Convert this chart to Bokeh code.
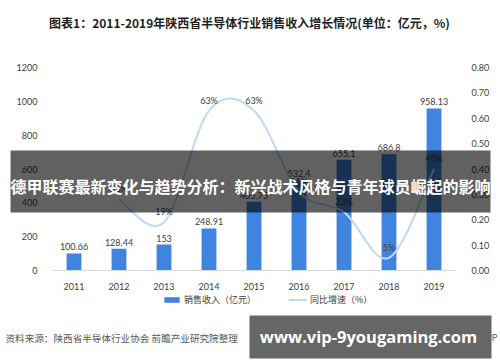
from bokeh.plotting import figure
from bokeh.models import (Range1d, LinearAxis, FixedTicker, PrintfTickFormatter, Label,
                          BoxAnnotation, Legend, LegendItem)
from bokeh.core.properties import value
from bokeh.embed import file_html
from bokeh.resources import INLINE

years = ["2011", "2012", "2013", "2014", "2015", "2016", "2017", "2018", "2019"]
sales = [100.66, 128.44, 153, 248.91, 405.75, 532.4, 655.1, 686.8, 958.13]
growth_years = ["2012", "2013", "2014", "2015", "2016", "2017", "2018", "2019"]
growth = [0.28, 0.19, 0.63, 0.63, 0.31, 0.23, 0.05, 0.40]
left_ticks = [0, 200, 400, 600, 800, 1000, 1200]
right_ticks = [0.0, 0.1, 0.2, 0.3, 0.4, 0.5, 0.6, 0.7, 0.8]

title_text = "图表1：2011-2019年陕西省半导体行业销售收入增长情况(单位：亿元，%)"
banner_text = "德甲联赛最新变化与趋势分析：新兴战术风格与青年球员崛起的影响"
source_text = "资料来源：陕西省半导体行业协会 前瞻产业研究院整理"
app_text = "前瞻经济学人APP"
wm_text = "www.vip-9yougaming.com"

CJK = "Noto Sans CJK SC"
NUM = "Lato"
BAR = "#3F84DF"
LINE = "#BFD8F6"
TXT = "#404040"

W, H = 500, 362
# plot area inside the canvas (pixels): left, right, top, bottom
PL, PR, PT, PB = 51, 456, 67, 270
ncat = len(years)
ux = ncat / (PR - PL)          # x data units per pixel
uy = 1200 / (PB - PT)          # left-axis units per pixel
up = 0.8 / (PB - PT)           # right-axis units per pixel

p = figure(width=W, height=H, output_backend="svg", toolbar_location=None,
           x_range=Range1d(-PL * ux, ncat + (W - PR) * ux),
           y_range=Range1d(-(H - PB) * uy, 1200 + PT * uy),
           min_border=0)
p.outline_line_color = None
p.grid.visible = False
p.background_fill_color = "white"
p.border_fill_color = "white"
p.extra_y_ranges = {"pct": Range1d(-(H - PB) * up, 0.8 + PT * up)}

xpos = [i + 0.5 for i in range(ncat)]
xmap = {y: i + 0.5 for i, y in enumerate(years)}

# axes (fixed inside the full-canvas frame)
xa = p.xaxis[0]
xa.fixed_location = 0
xa.bounds = (0, ncat)
xa.ticker = FixedTicker(ticks=xpos)
xa.major_label_overrides = {x: y for x, y in zip(xpos, years)}
xa.axis_line_color = "#D9D9D9"
xa.major_tick_line_color = None
xa.minor_tick_line_color = None
xa.major_label_standoff = 6
xa.major_label_text_font = NUM
xa.major_label_text_font_size = "9px"
xa.major_label_text_color = TXT

ya = p.yaxis[0]
ya.fixed_location = 0
ya.ticker = FixedTicker(ticks=left_ticks)
ya.axis_line_color = None
ya.major_tick_line_color = None
ya.minor_tick_line_color = None
ya.major_label_standoff = 8
ya.major_label_text_font = NUM
ya.major_label_text_font_size = "9px"
ya.major_label_text_color = TXT

ra = LinearAxis(y_range_name="pct", ticker=FixedTicker(ticks=right_ticks),
                formatter=PrintfTickFormatter(format="%.2f"), fixed_location=ncat)
ra.axis_line_color = None
ra.major_tick_line_color = None
ra.minor_tick_line_color = None
ra.major_label_standoff = 9
ra.major_label_text_font = NUM
ra.major_label_text_font_size = "9px"
ra.major_label_text_color = TXT
p.add_layout(ra, "right")

# bars
bars = p.vbar(x=xpos, top=sales, width=0.33, fill_color=BAR, line_color=None)
p.text(x=xpos, y=sales, text=[f"{v:g}" for v in sales], text_align="center",
       text_baseline="bottom", y_offset=-3, text_font=value(NUM),
       text_font_size="9px", text_color=TXT)

# smoothed growth line (Excel-like bezier through the points)
gx = [xmap[y] for y in growth_years]
n = len(gx)
x0, y0, x1, y1, cx0, cy0, cx1, cy1 = [], [], [], [], [], [], [], []
for i in range(n - 1):
    pa = (gx[max(i - 1, 0)], growth[max(i - 1, 0)])
    pb = (gx[i], growth[i])
    pc = (gx[i + 1], growth[i + 1])
    pd = (gx[min(i + 2, n - 1)], growth[min(i + 2, n - 1)])
    x0.append(pb[0]); y0.append(pb[1]); x1.append(pc[0]); y1.append(pc[1])
    cx0.append(pb[0] + (pc[0] - pa[0]) / 6); cy0.append(pb[1] + (pc[1] - pa[1]) / 6)
    cx1.append(pc[0] - (pd[0] - pb[0]) / 6); cy1.append(pc[1] - (pd[1] - pb[1]) / 6)
curve = p.bezier(x0=x0, y0=y0, x1=x1, y1=y1, cx0=cx0, cy0=cy0, cx1=cx1, cy1=cy1,
                 line_color=LINE, line_width=2, y_range_name="pct")
p.text(x=gx, y=growth, text=[f"{round(g * 100)}%" for g in growth], text_align="center",
       text_baseline="bottom", y_offset=-5, text_font=value(NUM),
       text_font_size="9px", text_color=TXT, y_range_name="pct")

legend = Legend(items=[LegendItem(label="销售收入（亿元）", renderers=[bars]),
                       LegendItem(label="同比增速（%）", renderers=[curve])],
                orientation="horizontal", location=(162, H - 306),
                glyph_width=19, glyph_height=7, label_height=12, label_standoff=3,
                spacing=32, padding=0, margin=0, border_line_color=None,
                background_fill_alpha=0, label_text_font=CJK,
                label_text_font_size="9px", label_text_color=TXT)
p.add_layout(legend, "center")

# page texts and overlays, in screen pixels (origin bottom-left of the canvas)
def sy(ry):
    return H - ry

def scr_label(x, y, text, **kw):
    return Label(x=x, y=sy(y), x_units="screen", y_units="screen", text=text,
                 text_baseline="middle", **kw)

def scr_box(l, r, t, b, **kw):
    return BoxAnnotation(left=l, right=r, top=sy(t), bottom=sy(b), left_units="screen",
                         right_units="screen", top_units="screen", bottom_units="screen",
                         line_color=None, **kw)

p.add_layout(scr_label(249, 22, title_text, text_align="center", text_font=CJK,
                       text_font_size="12px", text_font_style="bold", text_color="#1f1f1f"))
p.add_layout(scr_label(5, 337, source_text, text_align="left", text_font=CJK,
                       text_font_size="9.6px", text_color="#595959"))
p.add_layout(scr_label(497, 337, app_text, text_align="right", text_font=CJK,
                       text_font_size="9px", text_color="#595959"))
p.add_layout(scr_box(10, 490, 150, 212, fill_color="black", fill_alpha=0.62))
p.add_layout(scr_label(250, 185, banner_text, text_align="center", text_font=CJK,
                       text_font_size="16px", text_font_style="bold", text_color="white"))
p.add_layout(scr_box(249, 491, 315, 358, fill_color="#666666", fill_alpha=1))
p.add_layout(scr_label(368, 336, wm_text, text_align="center", text_font="Open Sans",
                       text_font_size="16.5px", text_font_style="bold", text_color="white"))

open("out.html", "w").write(file_html(p, INLINE))
